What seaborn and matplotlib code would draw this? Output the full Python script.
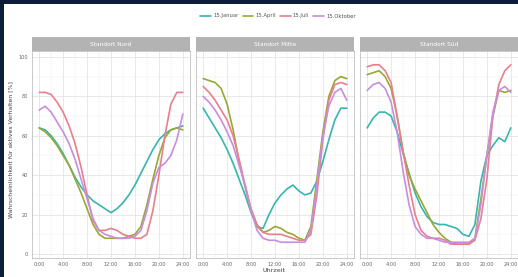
import numpy as np
import pandas as pd
import matplotlib
matplotlib.use("Agg")
import matplotlib.pyplot as plt
from matplotlib.patches import Rectangle
from matplotlib.lines import Line2D
import seaborn as sns

hours = list(range(25))
tick_labels = ["0:00", "4:00", "8:00", "12:00", "16:00", "20:00", "24:00"]
panels = ["Standort Nord", "Standort Mitte", "Standort Süd"]
series = ["15.Januar", "15.April", "15.Juli", "15.Oktober"]
colors = ["#36b6ae", "#98a832", "#e87f8c", "#c78ddf"]

# Panel 1
p1_jan = [64, 63, 60, 56, 51, 45, 39, 34, 30, 27, 25, 23, 21, 23, 26, 30, 35, 41, 47, 53, 58, 61, 63, 64, 65]
p1_apr = [64, 62, 59, 55, 50, 45, 38, 31, 23, 15, 10, 8, 8, 8, 8, 9, 10, 14, 25, 38, 50, 59, 63, 64, 63]
p1_jul = [82, 82, 81, 77, 72, 65, 56, 44, 30, 17, 12, 12, 13, 12, 10, 9, 8, 8, 10, 22, 40, 60, 76, 82, 82]
p1_okt = [73, 75, 72, 67, 62, 56, 48, 38, 28, 18, 12, 10, 9, 8, 8, 8, 9, 12, 22, 36, 44, 46, 50, 58, 71]
# Panel 2
p2_jan = [74, 69, 64, 59, 53, 46, 38, 30, 21, 14, 13, 20, 26, 30, 33, 35, 32, 30, 31, 37, 47, 58, 68, 74, 74]
p2_apr = [89, 88, 87, 84, 76, 63, 47, 34, 22, 14, 11, 12, 14, 13, 11, 10, 8, 7, 14, 38, 62, 80, 88, 90, 89]
p2_jul = [85, 82, 78, 73, 68, 60, 48, 35, 23, 15, 11, 10, 10, 10, 9, 8, 7, 7, 10, 30, 58, 78, 86, 87, 86]
p2_okt = [80, 77, 73, 68, 62, 55, 45, 35, 22, 12, 8, 7, 7, 6, 6, 6, 6, 6, 12, 35, 60, 75, 82, 84, 78]
# Panel 3
p3_jan = [64, 69, 72, 72, 70, 62, 51, 41, 31, 24, 19, 16, 15, 15, 14, 13, 10, 9, 15, 37, 50, 55, 59, 57, 64]
p3_apr = [91, 92, 93, 90, 84, 70, 52, 40, 33, 27, 21, 15, 11, 8, 6, 5, 5, 5, 8, 28, 50, 70, 83, 82, 83]
p3_jul = [95, 96, 96, 93, 87, 70, 52, 35, 20, 12, 9, 8, 8, 7, 5, 5, 5, 5, 7, 18, 38, 70, 86, 93, 96]
p3_okt = [83, 86, 87, 84, 77, 62, 42, 25, 14, 10, 8, 8, 7, 6, 6, 6, 6, 6, 8, 25, 50, 72, 83, 85, 82]

data = {
    panels[0]: [p1_jan, p1_apr, p1_jul, p1_okt],
    panels[1]: [p2_jan, p2_apr, p2_jul, p2_okt],
    panels[2]: [p3_jan, p3_apr, p3_jul, p3_okt],
}

rows = []
for pn in panels:
    for s, vals in zip(series, data[pn]):
        for h, v in zip(hours, vals):
            rows.append({"panel": pn, "Datum": s, "h": h, "v": v})
df = pd.DataFrame(rows)

sns.set_theme(style="whitegrid")
plt.rcParams["font.family"] = ["DejaVu Sans"]

W, H = 518, 277
fig = plt.figure(figsize=(W / 100, H / 100), dpi=100)
fig.patch.set_facecolor("#0b1d38")
bg = Rectangle((4 / W, 0), 1, 1 - 4 / H, transform=fig.transFigure,
               facecolor="white", edgecolor="none", zorder=-10)
fig.add_artist(bg)

lefts = [32, 196, 360]
pw = 158
bottom_px, top_px = 258, 51
strip_h = 14
palette = dict(zip(series, colors))

for i, pn in enumerate(panels):
    ax = fig.add_axes([lefts[i] / W, 1 - bottom_px / H, pw / W, (bottom_px - top_px) / H])
    ax.set_facecolor("white")
    sub = df[df.panel == pn]
    sns.lineplot(data=sub, x="h", y="v", hue="Datum", palette=palette, ax=ax,
                 lw=1.2, legend=False, hue_order=series)
    ax.set_xlim(-1.2, 25.2)
    ax.set_ylim(-2, 103)
    ax.set_xticks([0, 4, 8, 12, 16, 20, 24])
    ax.set_xticklabels(tick_labels)
    ax.set_xticks([2, 6, 10, 14, 18, 22], minor=True)
    ax.set_yticks([0, 20, 40, 60, 80, 100])
    ax.set_yticks([10, 30, 50, 70, 90], minor=True)
    ax.grid(which="major", color="#dedede", lw=0.5)
    ax.grid(which="minor", color="#eeeeee", lw=0.35)
    ax.tick_params(axis="both", labelsize=3.6, colors="#666666", length=1.5, pad=1.5, width=0.4)
    ax.tick_params(which="minor", length=0)
    if i > 0:
        ax.set_yticklabels([])
        ax.tick_params(axis="y", length=0)
    ax.set_xlabel("")
    ax.set_ylabel("")
    for sp in ax.spines.values():
        sp.set_color("#b3b3b3")
        sp.set_linewidth(0.5)
    strip = Rectangle((lefts[i] / W, 1 - top_px / H), pw / W, strip_h / H,
                      transform=fig.transFigure, facecolor="#b3b3b3",
                      edgecolor="none", zorder=2)
    fig.add_artist(strip)
    fig.text((lefts[i] + pw / 2) / W, 1 - (top_px - strip_h / 2) / H, pn,
             ha="center", va="center", color="white", fontsize=4.2, zorder=3)

fig.text(11 / W, 1 - 150 / H, "Wahrscheinlichkeit für aktives Verhalten [%]",
         rotation=90, ha="center", va="center", fontsize=4.4, color="#444444")
fig.text(274 / W, 1 - 271 / H, "Uhrzeit", ha="center", va="center",
         fontsize=4.6, color="#444444")

handles = [Line2D([0], [0], color=c, lw=1.2) for c in colors]
fig.legend(handles, series, loc="center", bbox_to_anchor=(278 / W, 1 - 16 / H),
           ncol=4, frameon=False, fontsize=3.8, handlelength=2.0,
           columnspacing=0.8, handletextpad=0.4, labelcolor="#555555")

fig.savefig("out.png", dpi=100, facecolor=fig.get_facecolor())
